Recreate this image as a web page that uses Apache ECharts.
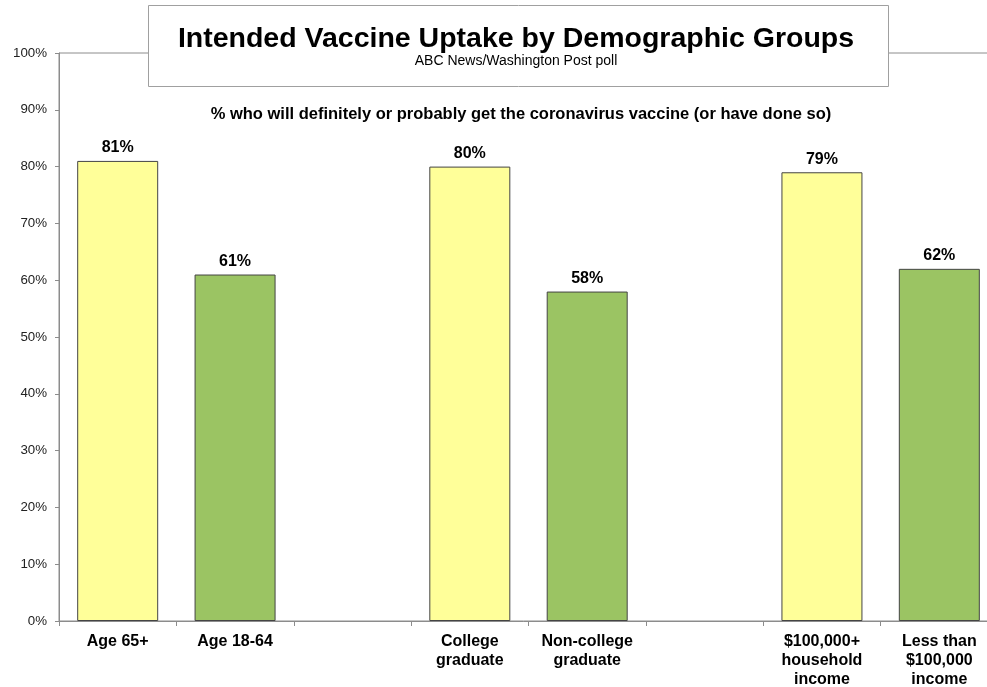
<!DOCTYPE html>
<html>
<head>
<meta charset="utf-8">
<script src="https://cdn.jsdelivr.net/npm/echarts@6/dist/echarts.min.js"></script>
<style>
html,body{margin:0;padding:0;background:#fff;}
#chart{width:987px;height:687px;}
</style>
</head>
<body>
<div id="chart"></div>
<script>
var categories = ['Age 65+', 'Age 18-64', '', 'College\ngraduate', 'Non-college\ngraduate', '', '$100,000+\nhousehold\nincome', 'Less than\n$100,000\nincome'];
var values = [81, 61, null, 80, 58, null, 79, 62];
var barColors = ['#FFFF99', '#9BC463', null, '#FFFF99', '#9BC463', null, '#FFFF99', '#9BC463'];
var titleText = 'Intended Vaccine Uptake by Demographic Groups';
var subText = 'ABC News/Washington Post poll';
var noteText = '% who will definitely or probably get the coronavirus vaccine (or have done so)';

var chart = echarts.init(document.getElementById('chart'));
var font = 'Liberation Sans, Arial, sans-serif';
chart.setOption({
  animation: false,
  backgroundColor: '#fff',
  graphic: [{
    type: 'rect', z: 100,
    shape: {x: 148.5, y: 5.5, width: 740, height: 81},
    style: {fill: '#fff', stroke: '#a0a0a0', lineWidth: 1}
  }],
  title: [
    {text: titleText, left: 516, top: 25, textAlign: 'center', z: 110, padding: 0,
     textStyle: {fontFamily: font, fontSize: 28.5, fontWeight: 'bold', color: '#000'}},
    {text: subText, left: 516, top: 54, textAlign: 'center', z: 110, padding: 0,
     textStyle: {fontFamily: font, fontSize: 14, fontWeight: 'normal', color: '#000'}},
    {text: noteText, left: 521, top: 106, textAlign: 'center', z: 110, padding: 0,
     textStyle: {fontFamily: font, fontSize: 16.5, fontWeight: 'bold', color: '#000'}}
  ],
  grid: {left: 59, top: 53, width: 939, height: 568, outerBoundsMode: 'none', containLabel: false,
         show: true, borderColor: '#8c8c8c', borderWidth: 1, backgroundColor: 'transparent'},
  xAxis: {
    type: 'category', data: categories,
    axisLine: {lineStyle: {color: '#8c8c8c', width: 1}},
    axisTick: {show: true, length: 5, interval: 0, lineStyle: {color: '#8c8c8c'}},
    axisLabel: {interval: 0, margin: 11, color: '#000', fontFamily: font, fontSize: 16, fontWeight: 'bold', lineHeight: 19}
  },
  yAxis: {
    type: 'value', min: 0, max: 100, interval: 10,
    axisLine: {show: true, lineStyle: {color: '#8c8c8c', width: 1}},
    axisTick: {show: true, length: 4, lineStyle: {color: '#8c8c8c'}},
    splitLine: {show: false},
    axisLabel: {formatter: '{value}%', margin: 12, color: '#222', fontFamily: font, fontSize: 13.3}
  },
  series: [{
    type: 'bar',
    barWidth: 81,
    data: values.map(function (v, i) {
      return {value: v, itemStyle: {color: barColors[i] || 'transparent'}};
    }),
    itemStyle: {borderColor: '#444', borderWidth: 1},
    label: {show: true, position: 'top', distance: 5, formatter: '{c}%', color: '#000', fontFamily: font, fontSize: 16, fontWeight: 'bold'}
  }]
});
</script>
</body>
</html>
